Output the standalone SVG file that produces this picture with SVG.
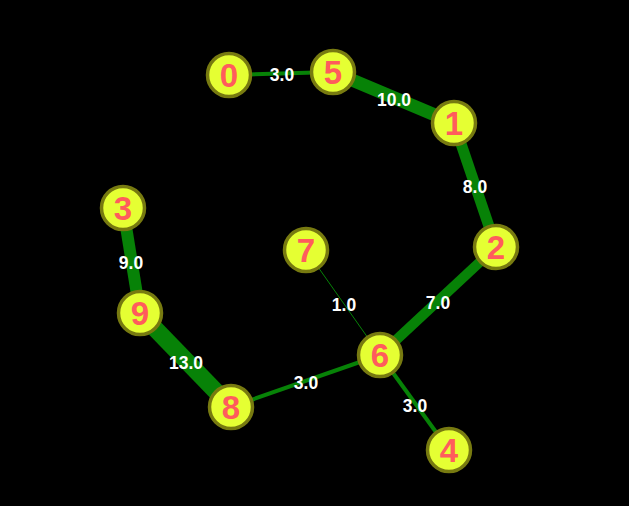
<svg xmlns="http://www.w3.org/2000/svg" width="629" height="506" viewBox="0 0 629 506">
<style>
.e{stroke:#078207;stroke-linecap:butt;fill:none}
.n circle{fill:#e5ff33;stroke:#777a10;stroke-width:3.5}
.n text{fill:#ff5c5c;font-family:"Liberation Sans",Arial,sans-serif;font-weight:bold;font-size:33px;text-anchor:middle}
.l{fill:#ffffff;font-family:"Liberation Sans",Arial,sans-serif;font-weight:bold;font-size:17.5px;text-anchor:middle}
</style>
<rect width="629" height="506" fill="#000000"/>
<g id="connectors">
<line class="e" x1="229" y1="75" x2="333" y2="72" stroke-width="4"/>
<line class="e" x1="333" y1="72" x2="454" y2="123" stroke-width="13"/>
<line class="e" x1="454" y1="123" x2="496" y2="247" stroke-width="11"/>
<line class="e" x1="496" y1="247" x2="380" y2="355" stroke-width="10"/>
<line class="e" x1="306" y1="250" x2="380" y2="355" stroke-width="1"/>
<line class="e" x1="380" y1="355" x2="449" y2="450" stroke-width="4"/>
<line class="e" x1="380" y1="355" x2="231" y2="407" stroke-width="4"/>
<line class="e" x1="123" y1="208" x2="140" y2="313" stroke-width="12"/>
<line class="e" x1="140" y1="313" x2="231" y2="407" stroke-width="17"/>
<text class="l" x="282" y="81">3.0</text>
<text class="l" x="394" y="106">10.0</text>
<text class="l" x="475" y="193">8.0</text>
<text class="l" x="438" y="309">7.0</text>
<text class="l" x="344" y="311">1.0</text>
<text class="l" x="415" y="412">3.0</text>
<text class="l" x="306" y="389">3.0</text>
<text class="l" x="131" y="269">9.0</text>
<text class="l" x="186" y="369">13.0</text>
</g>
<g id="node0" class="n"><circle cx="229" cy="75" r="21.5"/><text x="229" y="87">0</text></g>
<g id="node5" class="n"><circle cx="333" cy="72" r="21.5"/><text x="333" y="84">5</text></g>
<g id="node1" class="n"><circle cx="454" cy="123" r="21.5"/><text x="454" y="135">1</text></g>
<g id="node2" class="n"><circle cx="496" cy="247" r="21.5"/><text x="496" y="259">2</text></g>
<g id="node7" class="n"><circle cx="306" cy="250" r="21.5"/><text x="306" y="262">7</text></g>
<g id="node6" class="n"><circle cx="380" cy="355" r="21.5"/><text x="380" y="367">6</text></g>
<g id="node4" class="n"><circle cx="449" cy="450" r="21.5"/><text x="449" y="462">4</text></g>
<g id="node3" class="n"><circle cx="123" cy="208" r="21.5"/><text x="123" y="220">3</text></g>
<g id="node9" class="n"><circle cx="140" cy="313" r="21.5"/><text x="140" y="325">9</text></g>
<g id="node8" class="n"><circle cx="231" cy="407" r="21.5"/><text x="231" y="419">8</text></g>
</svg>
